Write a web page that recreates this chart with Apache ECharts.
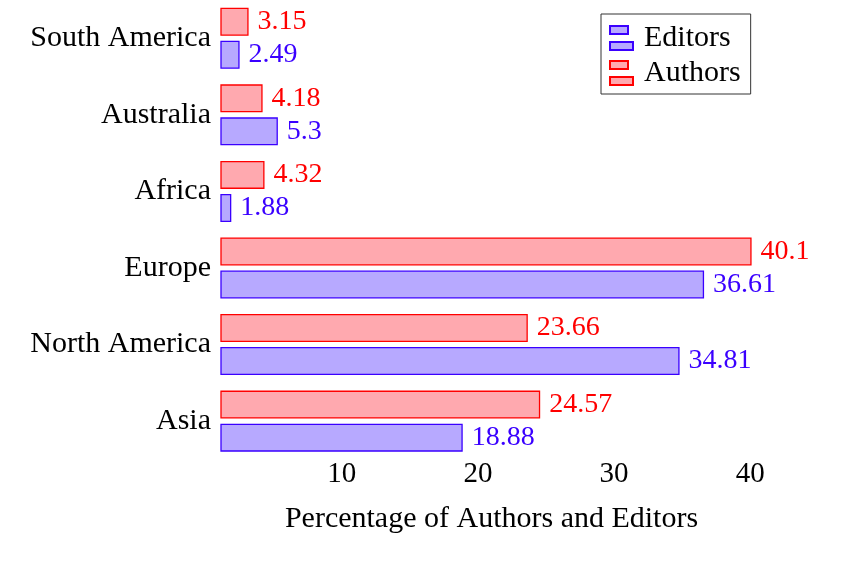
<!DOCTYPE html>
<html>
  <head>
    <meta charset='UTF-8'>
    <title>Authors and Editors by continent</title>
    <script src="https://cdn.jsdelivr.net/npm/echarts@6.0.0/dist/echarts.min.js"></script>
  </head>
  <body style="margin:0;background:#fff">
    <div id="main" style="width: 862px;height:561px;"></div>
    <script type="text/javascript">
      // categories from bottom to top
      var regions = ['Asia', 'North America', 'Europe', 'Africa', 'Australia', 'South America'];
      var editors = [18.88, 34.81, 36.61, 1.88, 5.3, 2.49];
      var authors = [24.57, 23.66, 40.1, 4.32, 4.18, 3.15];
      var xTicks = [10, 20, 30, 40];

      var serif = '"Liberation Serif", "DejaVu Serif", serif';
      // legend icon: two little stacked bars, like pgfplots xbar legend
      var barIcon = 'path://M0,0H18V8H0Z M0,16H23V24H0Z';

      var myChart = echarts.init(document.getElementById('main'));

      var option = {
        animation: false,
        textStyle: { fontFamily: serif },
        legend: {
          orient: 'vertical',
          left: 601,
          top: 14,
          padding: [9, 10, 6, 8],
          itemGap: 5,
          itemWidth: 23,
          itemHeight: 24,
          borderColor: '#333',
          borderWidth: 1,
          icon: barIcon,
          textStyle: {
            fontFamily: serif,
            fontSize: 30,
            lineHeight: 30,
            color: '#000',
            padding: [0, 0, 0, 6]
          },
          data: ['Editors', 'Authors']
        },
        grid: {
          left: 221,
          right: 100,
          top: -1.4,
          height: 460.8
        },
        xAxis: {
          type: 'value',
          min: 1.1236,
          max: 40.864,
          axisLine: { show: false },
          axisTick: { show: false },
          splitLine: { show: false },
          axisLabel: {
            customValues: xTicks,
            fontFamily: serif,
            fontSize: 29,
            color: '#000',
            margin: 0
          },
          name: 'Percentage of Authors and Editors',
          nameLocation: 'middle',
          nameGap: 45,
          nameTextStyle: { fontFamily: serif, fontSize: 30, color: '#000' }
        },
        yAxis: {
          type: 'category',
          data: regions,
          axisLine: { show: false },
          axisTick: { show: false },
          axisLabel: {
            fontFamily: serif,
            fontSize: 30,
            color: '#000',
            margin: 10
          }
        },
        // authors first so their bar sits above the editors bar
        series: [
          {
            name: 'Authors',
            type: 'bar',
            barWidth: 28,
            barGap: '18%',
            data: authors,
            itemStyle: { color: '#ffa9af', borderColor: '#ff0000', borderWidth: 1.3 },
            label: {
              show: true,
              position: 'right',
              distance: 9,
              fontFamily: serif,
              fontSize: 28,
              color: '#ff0000'
            }
          },
          {
            name: 'Editors',
            type: 'bar',
            barWidth: 28,
            barGap: '18%',
            data: editors,
            itemStyle: { color: '#b7a9ff', borderColor: '#3a00ff', borderWidth: 1.3 },
            label: {
              show: true,
              position: 'right',
              distance: 9,
              fontFamily: serif,
              fontSize: 28,
              color: '#3a00ff'
            }
          }
        ]
      };
      myChart.setOption(option, true);
    </script>
  </body>
</html>
